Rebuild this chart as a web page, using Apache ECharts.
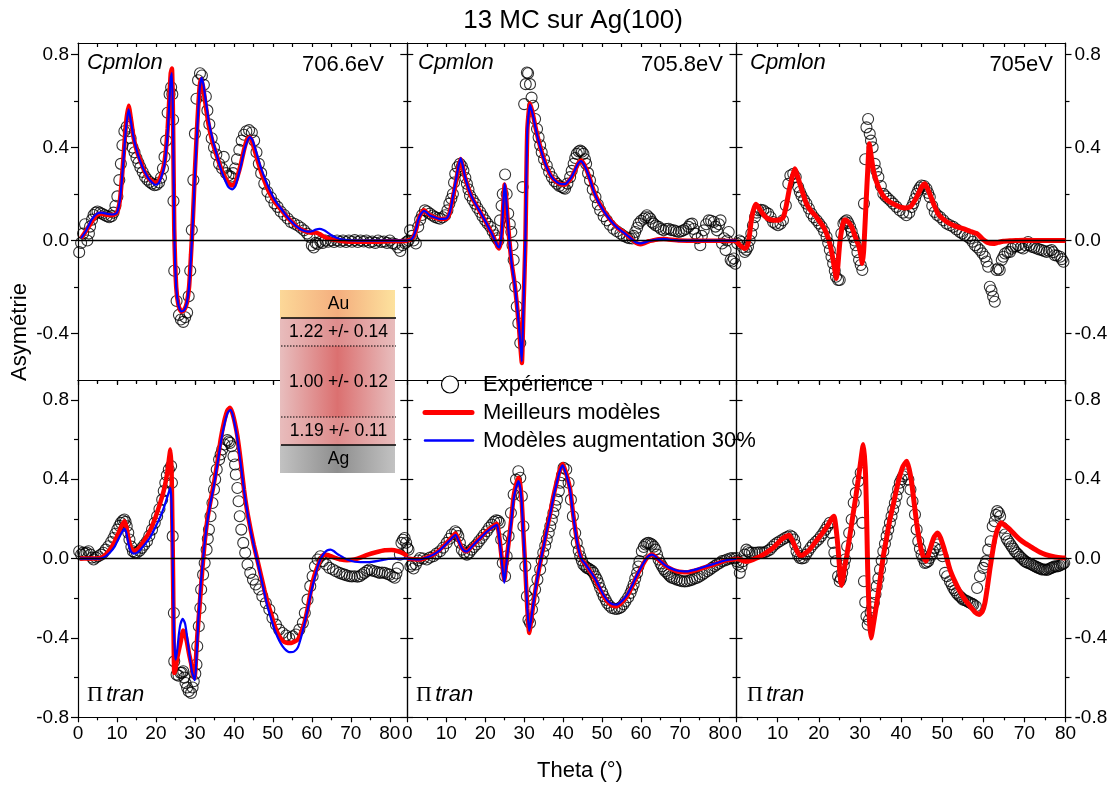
<!DOCTYPE html>
<html><head><meta charset="utf-8">
<script src="https://cdn.jsdelivr.net/npm/echarts@6/dist/echarts.min.js"></script>
<style>html,body{margin:0;padding:0;background:#fff}#c{width:1114px;height:785px}</style>
</head><body><div id="c"></div>
<script>
const FONT = '"Liberation Sans", Arial, sans-serif';

// ---------- tick values ----------
const xMajorTicks = [0,10,20,30,40,50,60,70,80];
const xMinorTicks = [5,15,25,35,45,55,65,75];
const xTopTicks = [5,10,15,20,25,30,35,40,45,50,55,60,65,70,75,80];
const yMajorTop = [-0.4,0,0.4,0.8];
const yMinorTop = [-0.2,0.2,0.6];
const yMajorBottom = [-0.8,-0.4,0,0.4,0.8];
const yMinorBottom = [-0.6,-0.2,0.2,0.6];
const energies = ['706.6eV','705.8eV','705eV'];

// ---------- Cpmlon 706.6 eV ----------
const expA1 = [[0.3,-0.05],[0.8,-0.01],[1.3,0.03],[1.8,0.07],[2.4,0.0],[2.8,0.03],[3.1,0.06],[3.6,0.09],[4.0,0.11],[4.5,0.12],[5.0,0.125],[5.6,0.12],[6.2,0.115],[6.8,0.11],[7.4,0.105],[8.0,0.10],[8.6,0.105],[9.1,0.12],[9.6,0.15],[10.1,0.19],[10.6,0.26],[11.0,0.33],[11.4,0.41],[11.9,0.47],[12.5,0.49],[13.0,0.47],[13.5,0.44],[14.0,0.40],[14.5,0.38],[15.0,0.355],[15.5,0.335],[16.0,0.315],[16.6,0.295],[17.2,0.275],[17.8,0.262],[18.4,0.252],[19.0,0.245],[19.6,0.238],[20.2,0.24],[20.8,0.25],[21.3,0.27],[21.8,0.31],[22.2,0.36],[22.6,0.43],[23.0,0.55],[23.5,0.63],[23.9,0.66],[24.2,0.63],[24.4,0.52],[24.5,0.17],[24.7,-0.13],[25.3,-0.26],[25.9,-0.32],[26.4,-0.34],[27.0,-0.35],[27.5,-0.33],[28.0,-0.31],[28.4,-0.24],[28.8,-0.13],[29.2,0.045],[29.6,0.26],[30.0,0.46],[30.4,0.61],[30.8,0.69],[31.3,0.72],[31.8,0.71],[32.3,0.67],[32.8,0.62],[33.2,0.56],[33.7,0.50],[34.3,0.44],[34.9,0.40],[35.5,0.37],[36.2,0.33],[37.0,0.31],[37.4,0.36],[38.0,0.29],[38.6,0.28],[39.2,0.275],[39.8,0.29],[40.3,0.31],[40.8,0.35],[41.4,0.39],[42.0,0.43],[42.6,0.455],[43.2,0.47],[43.9,0.475],[44.6,0.465],[45.2,0.43],[45.8,0.38],[46.4,0.33],[47.0,0.29],[47.8,0.245],[48.6,0.21],[49.5,0.185],[50.4,0.16],[51.2,0.145],[52.0,0.125],[52.9,0.11],[53.8,0.095],[54.6,0.08],[55.5,0.072],[56.4,0.065],[57.2,0.055],[58.0,0.044],[58.8,0.03],[59.4,0.016],[60.0,-0.02],[60.5,-0.03],[61.0,-0.01],[61.5,-0.015],[62.2,-0.005],[62.8,-0.01],[63.5,0.0],[64.2,-0.005],[65.0,0.0],[65.7,-0.006],[66.5,0.0],[67.3,-0.005],[68.0,0.0],[68.8,-0.006],[69.5,0.0],[70.3,-0.005],[71.0,0.002],[71.8,-0.006],[72.5,0.0],[73.3,-0.004],[74.0,0.0],[74.8,-0.008],[75.5,-0.004],[76.3,-0.01],[77.0,0.0],[77.8,-0.006],[78.5,-0.004],[79.3,-0.01],[80.0,0.0],[80.7,-0.012],[81.4,-0.015],[82.1,-0.03],[82.7,-0.045],[83.3,-0.02],[83.9,-0.012],[84.4,-0.005]];
const redA1 = [[0.8,0.01],[2,0.04],[3.5,0.08],[4.8,0.11],[6,0.115],[7.5,0.11],[9,0.11],[10,0.12],[10.8,0.18],[11.5,0.32],[12.3,0.5],[13,0.58],[13.6,0.52],[14.3,0.44],[15.2,0.38],[16,0.345],[17,0.3],[18,0.27],[19,0.255],[19.8,0.248],[20.6,0.255],[21.3,0.28],[22,0.32],[22.5,0.38],[23,0.48],[23.4,0.6],[23.8,0.72],[24.1,0.74],[24.4,0.5],[24.7,0.05],[25.2,-0.2],[25.8,-0.28],[26.5,-0.305],[27.2,-0.3],[27.9,-0.27],[28.5,-0.2],[29,-0.06],[29.5,0.1],[30,0.3],[30.6,0.5],[31.2,0.66],[31.6,0.695],[32.1,0.66],[32.7,0.59],[33.5,0.5],[34.5,0.425],[35.5,0.37],[36.5,0.32],[37.5,0.28],[38.5,0.25],[39.5,0.237],[40.3,0.245],[41,0.28],[41.8,0.33],[42.6,0.39],[43.4,0.435],[44,0.445],[44.6,0.43],[45.3,0.39],[46,0.35],[47,0.295],[48,0.25],[49,0.21],[50,0.18],[51,0.155],[52,0.135],[53,0.115],[54,0.095],[55,0.078],[56,0.062],[57,0.05],[58,0.042],[59,0.036],[60,0.034],[61,0.035],[62,0.028],[63,0.018],[64,0.01],[65,0.005],[67,0.0],[70,-0.005],[75,-0.005],[80,-0.003],[84.5,-0.002]];
const blueA1 = [[0.8,0.01],[2,0.04],[3.5,0.09],[4.8,0.115],[6,0.12],[7.5,0.115],[9,0.112],[10,0.12],[10.8,0.18],[11.5,0.31],[12.3,0.48],[13,0.565],[13.6,0.51],[14.3,0.44],[15.2,0.38],[16,0.34],[17,0.3],[18,0.27],[19,0.25],[19.8,0.24],[20.6,0.245],[21.3,0.27],[22,0.31],[22.5,0.37],[23,0.46],[23.4,0.58],[23.8,0.7],[24.1,0.72],[24.4,0.5],[24.7,0.05],[25.2,-0.2],[25.8,-0.28],[26.5,-0.305],[27.2,-0.3],[27.9,-0.27],[28.5,-0.2],[29,-0.07],[29.5,0.09],[30,0.28],[30.6,0.48],[31.2,0.65],[31.7,0.70],[32.2,0.67],[32.8,0.6],[33.6,0.51],[34.6,0.43],[35.6,0.37],[36.6,0.31],[37.6,0.265],[38.6,0.23],[39.6,0.22],[40.4,0.235],[41.1,0.275],[41.9,0.33],[42.7,0.39],[43.5,0.43],[44.1,0.445],[44.7,0.435],[45.4,0.4],[46.1,0.36],[47,0.31],[48,0.265],[49,0.225],[50,0.19],[51,0.162],[52,0.14],[53,0.117],[54,0.096],[55,0.078],[56,0.062],[57,0.05],[58,0.042],[59,0.038],[60,0.04],[61,0.047],[62,0.05],[63,0.045],[64,0.035],[65,0.023],[66,0.014],[67,0.008],[68,0.004],[70,0.001],[75,0.0],[84.5,0.0]];

// ---------- Cpmlon 705.8 eV ----------
const expB1 = [[0.3,0.0],[0.7,0.044],[1.2,0.02],[1.6,0.0],[2.2,-0.013],[2.8,0.059],[3.3,0.09],[3.8,0.11],[4.5,0.13],[5.1,0.125],[5.8,0.116],[6.5,0.108],[7.1,0.101],[7.8,0.097],[8.4,0.094],[9.1,0.1],[9.7,0.109],[10.3,0.13],[10.8,0.159],[11.3,0.18],[11.7,0.2],[12.0,0.25],[12.3,0.287],[12.9,0.316],[13.5,0.33],[14.0,0.32],[14.4,0.301],[14.9,0.27],[15.3,0.244],[15.7,0.22],[16.1,0.194],[16.8,0.175],[17.4,0.159],[18.0,0.14],[18.7,0.123],[19.3,0.105],[20.0,0.087],[20.6,0.073],[21.3,0.059],[21.9,0.04],[22.5,0.023],[23.0,0.01],[23.4,0.0],[23.8,0.087],[24.2,0.15],[24.5,0.2],[25.1,0.284],[25.5,0.2],[25.9,0.116],[26.3,0.07],[26.7,0.037],[27.0,-0.02],[27.3,-0.084],[27.7,-0.199],[28.1,-0.284],[28.5,-0.356],[29.0,-0.441],[29.6,0.23],[30.0,0.587],[30.4,0.673],[30.7,0.723],[31.0,0.72],[31.5,0.673],[31.9,0.615],[32.3,0.58],[32.8,0.523],[33.3,0.48],[33.7,0.444],[34.1,0.41],[34.5,0.38],[35.1,0.35],[35.8,0.323],[36.4,0.295],[37.1,0.273],[37.8,0.255],[38.4,0.244],[39.0,0.235],[39.7,0.23],[40.1,0.226],[40.5,0.223],[41.1,0.245],[41.8,0.273],[42.2,0.3],[42.7,0.33],[43.1,0.355],[43.5,0.373],[44.0,0.383],[44.4,0.387],[44.8,0.382],[45.2,0.373],[45.6,0.35],[45.9,0.33],[46.4,0.29],[46.9,0.259],[47.6,0.22],[48.3,0.187],[48.9,0.155],[49.5,0.13],[50.4,0.105],[51.2,0.087],[52.0,0.068],[52.9,0.051],[53.8,0.04],[54.7,0.03],[55.5,0.02],[56.4,0.013],[57.0,0.01],[57.7,0.009],[58.1,0.02],[58.5,0.037],[59.0,0.055],[59.4,0.073],[60.0,0.085],[60.7,0.094],[61.1,0.1],[61.5,0.109],[62.0,0.1],[62.4,0.094],[62.8,0.08],[63.2,0.073],[63.8,0.065],[64.5,0.059],[65.1,0.05],[65.8,0.044],[66.4,0.05],[67.1,0.051],[67.7,0.045],[68.4,0.044],[69.0,0.04],[69.7,0.037],[70.3,0.04],[70.9,0.044],[71.5,0.05],[72.2,0.059],[72.6,0.07],[73.1,0.073],[73.5,0.05],[73.9,0.03],[74.5,0.01],[75.2,-0.02],[75.6,0.02],[76.1,0.044],[76.7,0.07],[77.4,0.087],[78.0,0.085],[78.7,0.08],[79.1,0.06],[79.5,0.044],[80.0,0.07],[80.4,0.087],[80.8,-0.013],[81.3,0.01],[81.7,-0.041],[82.1,0.0],[82.5,0.037],[83.0,-0.084],[83.4,-0.09],[83.8,-0.077],[84.2,-0.1],[84.6,-0.113]];
const redB1 = [[0,0],[1,0.005],[1.6,0.016],[2.3,0.05],[2.8,0.087],[3.5,0.115],[4.3,0.13],[5,0.12],[5.8,0.109],[7,0.1],[8,0.094],[9,0.093],[10.1,0.094],[10.8,0.115],[11.4,0.159],[12,0.21],[12.7,0.273],[13.2,0.32],[13.7,0.351],[14.2,0.32],[14.8,0.273],[15.6,0.23],[16.5,0.187],[17.6,0.155],[18.7,0.123],[19.8,0.09],[20.8,0.059],[21.7,0.03],[22.5,0.001],[23.1,-0.025],[23.6,-0.034],[24,-0.005],[24.3,0.044],[24.7,0.17],[25,0.241],[25.3,0.2],[25.7,0.101],[26.2,0.0],[26.8,-0.099],[27.5,-0.18],[28.1,-0.27],[28.7,-0.38],[29.1,-0.47],[29.4,-0.527],[29.8,-0.3],[30.3,-0.013],[30.8,0.473],[31.5,0.59],[32,0.56],[32.4,0.53],[33,0.48],[33.7,0.43],[34.7,0.37],[35.8,0.316],[37,0.275],[38.4,0.251],[39.5,0.242],[40.5,0.241],[41.4,0.255],[42.2,0.273],[43,0.3],[43.8,0.33],[44.6,0.344],[45.3,0.33],[46.1,0.301],[47,0.26],[47.8,0.216],[49,0.17],[50.4,0.13],[51.7,0.098],[52.9,0.073],[54.2,0.052],[55.5,0.037],[56.6,0.02],[57.7,0.004],[58.7,-0.01],[59.8,-0.016],[61,-0.01],[62,-0.003],[63.2,0.001],[64.5,0.006],[65.8,0.007],[67,0.005],[70,0.0],[75,-0.001],[80,-0.001],[84.5,-0.002]];
const blueB1 = [[0,0],[1,0.005],[1.6,0.018],[2.3,0.052],[2.8,0.088],[3.5,0.115],[4.3,0.128],[5,0.12],[5.8,0.108],[7,0.1],[8,0.094],[9,0.093],[10.1,0.095],[10.8,0.117],[11.4,0.16],[12,0.215],[12.7,0.28],[13.2,0.325],[13.7,0.355],[14.2,0.325],[14.8,0.275],[15.6,0.23],[16.5,0.19],[17.6,0.155],[18.7,0.124],[19.8,0.09],[20.8,0.058],[21.7,0.03],[22.5,0.0],[23.1,-0.022],[23.6,-0.03],[24,-0.003],[24.3,0.05],[24.7,0.175],[25,0.245],[25.3,0.2],[25.7,0.1],[26.2,0.0],[26.8,-0.1],[27.5,-0.18],[28.1,-0.27],[28.7,-0.375],[29.1,-0.46],[29.4,-0.52],[29.8,-0.29],[30.3,0.0],[30.8,0.47],[31.5,0.585],[32,0.555],[32.4,0.527],[33,0.478],[33.7,0.428],[34.7,0.368],[35.8,0.315],[37,0.275],[38.4,0.251],[39.5,0.243],[40.5,0.243],[41.4,0.257],[42.2,0.275],[43,0.302],[43.8,0.33],[44.6,0.342],[45.3,0.328],[46.1,0.3],[47,0.258],[47.8,0.215],[49,0.168],[50.4,0.128],[51.7,0.097],[52.9,0.072],[54.2,0.051],[55.5,0.035],[56.6,0.02],[57.7,0.005],[58.7,-0.008],[59.8,-0.012],[61,-0.008],[62,-0.002],[63.2,0.002],[64.5,0.005],[65.8,0.006],[67,0.004],[70,0.0],[75,0.0],[80,0.0],[84.5,0.0]];

// ---------- Cpmlon 705 eV ----------
const expC1 = [[0.2,-0.013],[0.7,0.0],[1.2,-0.006],[1.6,-0.03],[2.0,-0.049],[2.4,-0.04],[2.8,-0.027],[3.2,0.0],[3.6,0.03],[4.0,0.065],[4.5,0.101],[4.9,0.12],[5.3,0.13],[5.9,0.132],[6.5,0.13],[7.1,0.122],[7.7,0.116],[8.3,0.1],[8.9,0.08],[9.5,0.072],[10.1,0.066],[10.7,0.072],[11.3,0.087],[12.0,0.151],[12.6,0.244],[13.1,0.28],[13.8,0.287],[14.4,0.273],[15.0,0.23],[15.4,0.21],[15.8,0.194],[16.4,0.175],[17.0,0.159],[17.6,0.138],[18.2,0.116],[18.8,0.1],[19.5,0.087],[20.1,0.073],[20.7,0.059],[21.3,0.04],[21.9,0.016],[22.3,-0.01],[22.7,-0.041],[23.1,-0.07],[23.5,-0.099],[23.9,-0.13],[24.2,-0.156],[24.7,-0.17],[25.1,-0.17],[25.5,0.03],[26.0,0.073],[26.4,0.082],[26.8,0.087],[27.2,0.075],[27.6,0.059],[28.0,0.04],[28.4,0.016],[28.7,0.0],[29.0,-0.02],[29.4,-0.05],[29.8,-0.084],[30.2,-0.105],[30.6,-0.127],[31.0,0.159],[31.3,0.35],[31.6,0.487],[32.0,0.523],[32.4,0.459],[32.7,0.43],[33.1,0.401],[33.6,0.33],[34.0,0.3],[34.5,0.273],[35.1,0.235],[35.7,0.201],[36.3,0.19],[36.9,0.18],[37.5,0.17],[38.1,0.159],[38.9,0.145],[39.7,0.13],[40.5,0.12],[41.3,0.109],[42.0,0.12],[42.6,0.144],[43.0,0.16],[43.4,0.18],[43.8,0.2],[44.2,0.216],[44.6,0.228],[45.0,0.237],[45.6,0.235],[46.2,0.223],[46.6,0.205],[47.0,0.187],[47.6,0.15],[48.2,0.123],[48.8,0.11],[49.5,0.101],[50.3,0.087],[51.1,0.073],[51.9,0.066],[52.7,0.059],[53.5,0.048],[54.3,0.037],[54.9,0.03],[55.5,0.023],[56.2,0.016],[56.8,0.009],[57.4,-0.005],[58.0,-0.02],[58.6,-0.03],[59.2,-0.041],[59.8,-0.055],[60.4,-0.07],[60.8,-0.09],[61.2,-0.113],[61.6,-0.199],[62.0,-0.215],[62.4,-0.241],[62.8,-0.263],[63.2,-0.127],[63.6,-0.12],[64.0,-0.127],[64.5,-0.084],[64.9,-0.07],[65.3,-0.056],[65.9,-0.05],[66.5,-0.049],[66.9,-0.035],[67.3,-0.027],[67.9,-0.025],[68.5,-0.02],[69.1,-0.03],[69.7,-0.034],[70.3,-0.02],[70.9,-0.006],[71.3,-0.02],[71.8,-0.027],[72.4,-0.03],[73.0,-0.034],[73.6,-0.038],[74.2,-0.041],[74.8,-0.045],[75.4,-0.049],[76.0,-0.045],[76.6,-0.041],[77.0,-0.05],[77.4,-0.063],[78.0,-0.065],[78.7,-0.07],[79.1,-0.08],[79.5,-0.091]];
const redC1 = [[0,0],[0.8,-0.02],[1.5,-0.03],[2,-0.034],[2.4,-0.03],[2.8,-0.013],[3.2,0.03],[3.6,0.087],[4.1,0.13],[4.7,0.156],[5.3,0.145],[6.1,0.123],[6.9,0.105],[7.7,0.094],[8.7,0.088],[9.7,0.087],[10.6,0.09],[11.4,0.101],[12.1,0.15],[12.8,0.216],[13.5,0.27],[14.2,0.309],[14.8,0.28],[15.4,0.244],[16.2,0.2],[17,0.159],[18,0.13],[19.1,0.109],[20.1,0.085],[21.1,0.059],[21.9,0.03],[22.7,-0.013],[23.3,-0.065],[23.9,-0.127],[24.3,-0.163],[24.6,-0.12],[25.1,-0.013],[25.6,0.05],[26.1,0.085],[26.4,0.09],[26.9,0.085],[27.4,0.075],[28,0.059],[28.6,0.03],[29.2,0.0],[29.8,-0.027],[30.2,-0.06],[30.6,-0.099],[30.9,-0.05],[31.2,0.05],[31.5,0.159],[31.9,0.3],[32.3,0.416],[32.7,0.37],[33.3,0.301],[34,0.255],[34.9,0.216],[36,0.185],[37.3,0.166],[38.5,0.155],[39.8,0.144],[41,0.14],[42.2,0.144],[43.2,0.168],[44.2,0.201],[45,0.23],[45.8,0.244],[46.4,0.225],[47,0.201],[48,0.155],[49,0.116],[50.4,0.09],[51.9,0.073],[53.5,0.06],[55.1,0.051],[56.8,0.04],[58.4,0.03],[59.2,0.018],[60,0.004],[61,-0.008],[62.4,-0.013],[63.6,-0.008],[64.9,-0.003],[66.5,-0.001],[68.1,0.0],[70,0.001],[75,0.0],[80,0.0]];

// ---------- Π tran 706.6 eV ----------
const expA2 = [[0.3,0.037],[0.8,0.02],[1.3,0.03],[1.8,0.025],[2.2,0.03],[2.7,0.037],[3.2,0.02],[3.6,0.005],[4.0,-0.005],[4.6,0.005],[5.2,0.012],[5.9,0.02],[6.5,0.029],[7.1,0.045],[7.8,0.062],[8.5,0.083],[9.1,0.104],[9.6,0.125],[10.1,0.146],[10.6,0.165],[11.0,0.18],[11.5,0.192],[11.9,0.197],[12.2,0.185],[12.5,0.163],[12.9,0.13],[13.2,0.096],[13.7,0.06],[14.1,0.037],[14.6,0.03],[15.1,0.029],[15.8,0.04],[16.4,0.054],[17.0,0.07],[17.7,0.087],[18.3,0.115],[19.0,0.146],[19.7,0.18],[20.3,0.213],[20.9,0.25],[21.6,0.297],[22.0,0.34],[22.4,0.382],[22.8,0.42],[23.3,0.449],[23.9,0.466],[24.1,0.382],[24.3,0.113],[24.6,-0.274],[24.7,-0.518],[25.3,-0.585],[25.8,-0.59],[26.3,-0.576],[26.7,-0.575],[27.0,-0.568],[27.3,-0.6],[27.6,-0.627],[28.0,-0.65],[28.4,-0.669],[29.0,-0.677],[29.4,-0.65],[29.7,-0.618],[30.1,-0.58],[30.4,-0.534],[30.6,-0.442],[31.0,-0.341],[31.4,-0.249],[31.6,-0.156],[32.1,-0.081],[32.5,-0.022],[33.0,0.045],[33.3,0.1],[33.6,0.146],[34.0,0.213],[34.5,0.28],[34.9,0.348],[35.2,0.4],[35.6,0.449],[36.2,0.499],[36.6,0.525],[37.0,0.55],[37.6,0.575],[38.3,0.597],[38.7,0.59],[39.0,0.583],[39.4,0.566],[39.9,0.516],[40.3,0.474],[40.5,0.424],[40.9,0.356],[41.2,0.289],[41.5,0.213],[41.9,0.146],[42.4,0.079],[42.9,0.029],[43.5,-0.03],[44.2,-0.072],[44.9,-0.106],[45.6,-0.131],[46.5,-0.156],[47.3,-0.19],[48.2,-0.224],[49.1,-0.257],[49.9,-0.299],[50.8,-0.333],[51.6,-0.358],[52.5,-0.375],[53.4,-0.388],[54.2,-0.4],[55.1,-0.392],[55.9,-0.383],[56.8,-0.358],[57.7,-0.324],[58.2,-0.274],[58.9,-0.207],[59.6,-0.139],[60.2,-0.089],[60.8,-0.039],[61.5,-0.005],[62.2,0.012],[62.8,-0.013],[63.7,-0.03],[64.5,-0.047],[65.4,-0.055],[66.2,-0.064],[67.1,-0.072],[67.8,-0.078],[68.4,-0.081],[69.0,-0.085],[69.7,-0.089],[70.3,-0.09],[71.0,-0.089],[71.7,-0.092],[72.3,-0.089],[72.9,-0.08],[73.5,-0.072],[74.2,-0.062],[74.8,-0.055],[75.4,-0.06],[76.1,-0.064],[76.8,-0.068],[77.4,-0.072],[78.0,-0.07],[78.7,-0.072],[79.4,-0.078],[80.0,-0.081],[80.7,-0.09],[81.3,-0.097],[81.7,-0.075],[82.1,-0.047],[82.6,0.02],[83.0,0.079],[83.4,0.095],[83.8,0.104],[84.2,0.08],[84.5,0.054]];
const redA2 = [[0.5,0],[3,0.0],[5.7,0.003],[7,0.018],[8.2,0.045],[9.4,0.085],[10.4,0.129],[11.2,0.165],[11.9,0.188],[12.4,0.16],[13,0.096],[13.6,0.055],[14.3,0.037],[15.2,0.045],[16,0.062],[17.3,0.1],[18.6,0.146],[19.9,0.21],[21.1,0.281],[22.1,0.35],[22.9,0.432],[23.4,0.51],[23.7,0.55],[24,0.45],[24.2,0.2],[24.4,-0.1],[24.7,-0.576],[25,-0.56],[25.4,-0.509],[25.9,-0.46],[26.3,-0.425],[27,-0.363],[27.5,-0.38],[28,-0.425],[28.5,-0.48],[29,-0.526],[29.5,-0.58],[29.9,-0.602],[30.2,-0.53],[30.6,-0.392],[31.2,-0.24],[31.9,-0.055],[32.5,0.08],[33.2,0.197],[34,0.29],[34.9,0.382],[35.8,0.49],[36.6,0.6],[37.5,0.69],[38.3,0.745],[39,0.76],[39.6,0.735],[40.3,0.68],[40.9,0.617],[41.7,0.5],[42.6,0.348],[43.4,0.24],[44.3,0.146],[45.1,0.07],[46,-0.005],[46.9,-0.08],[47.8,-0.156],[48.6,-0.22],[49.5,-0.274],[50.3,-0.33],[51.2,-0.375],[52.1,-0.405],[52.9,-0.42],[53.8,-0.425],[54.7,-0.425],[55.6,-0.418],[56.4,-0.408],[57.2,-0.375],[58.1,-0.324],[59,-0.245],[59.8,-0.156],[60.6,-0.09],[61.5,-0.039],[62.3,0.0],[63.2,0.02],[64,0.018],[64.9,0.012],[66,0.004],[67.5,-0.005],[69,-0.008],[71,-0.005],[72.5,0.005],[74.4,0.02],[76.5,0.032],[78.7,0.042],[80.5,0.043],[82.1,0.037],[83.5,0.025],[84.5,0.012]];
const blueA2 = [[0.5,0],[3,0.0],[5.7,0.0],[7,0.01],[8.2,0.03],[9.4,0.06],[10.4,0.1],[11.2,0.13],[11.9,0.15],[12.4,0.13],[13,0.07],[13.6,0.035],[14.3,0.025],[15.2,0.03],[16,0.045],[17.3,0.075],[18.6,0.11],[19.9,0.16],[21.1,0.21],[22.1,0.26],[22.9,0.31],[23.4,0.34],[23.7,0.356],[24,0.28],[24.3,0.0],[24.6,-0.35],[25,-0.509],[25.4,-0.47],[25.9,-0.38],[26.3,-0.33],[26.9,-0.304],[27.5,-0.33],[28.1,-0.41],[28.7,-0.5],[29.3,-0.575],[30,-0.613],[30.4,-0.5],[30.9,-0.3],[31.5,-0.13],[32.2,0.02],[33,0.16],[33.9,0.27],[34.9,0.37],[35.8,0.48],[36.7,0.59],[37.6,0.68],[38.4,0.735],[39.1,0.75],[39.7,0.725],[40.4,0.66],[41,0.59],[41.8,0.47],[42.7,0.33],[43.5,0.23],[44.3,0.14],[45.2,0.06],[46,-0.01],[46.9,-0.09],[47.8,-0.17],[48.6,-0.24],[49.5,-0.3],[50.3,-0.35],[51.2,-0.395],[52.1,-0.43],[53,-0.455],[53.8,-0.468],[54.6,-0.472],[55.5,-0.468],[56.4,-0.448],[57.2,-0.4],[58.1,-0.33],[59,-0.25],[59.8,-0.17],[60.7,-0.1],[61.5,-0.04],[62.3,0.0],[63.2,0.028],[64,0.042],[64.8,0.045],[65.6,0.038],[66.5,0.024],[67.5,0.012],[68.5,0.0],[69.8,-0.01],[71,-0.016],[72.5,-0.018],[74,-0.018],[75.3,-0.017],[77,-0.012],[78.5,-0.006],[79.6,-0.002],[82,0.0],[84.5,0.0]];

// ---------- Π tran 705.8 eV ----------
const expB2 = [[0.3,0.045],[0.8,-0.04],[1.2,-0.03],[1.6,-0.05],[2.2,-0.03],[2.8,-0.01],[3.3,0.003],[4.1,0.0],[5.0,-0.005],[5.8,0.005],[6.7,0.012],[7.5,0.025],[8.4,0.037],[9.2,0.055],[10.1,0.079],[10.8,0.1],[11.4,0.121],[12.3,0.138],[12.7,0.13],[13.1,0.113],[13.5,0.08],[14.0,0.045],[14.6,0.03],[15.3,0.02],[15.9,0.03],[16.5,0.045],[17.1,0.058],[17.8,0.071],[18.4,0.087],[19.1,0.104],[19.7,0.12],[20.4,0.138],[21.0,0.155],[21.7,0.171],[22.3,0.185],[22.8,0.193],[23.3,0.19],[23.7,0.18],[24.1,0.096],[24.5,-0.022],[25.1,-0.089],[25.5,0.012],[26.0,0.113],[26.6,0.23],[27.3,0.323],[27.9,0.398],[28.5,0.44],[29.0,0.407],[29.4,0.314],[29.8,0.163],[30.3,-0.039],[30.7,-0.19],[31.1,-0.308],[31.5,-0.324],[32.0,-0.257],[32.4,-0.207],[32.8,-0.156],[33.4,-0.106],[34.1,-0.055],[34.5,-0.01],[34.9,0.029],[35.4,0.065],[35.8,0.096],[36.3,0.13],[36.7,0.163],[37.1,0.195],[37.5,0.23],[38.0,0.265],[38.4,0.297],[38.9,0.34],[39.3,0.382],[39.7,0.42],[40.1,0.457],[40.8,0.449],[41.4,0.382],[42.0,0.297],[42.5,0.213],[43.1,0.129],[43.5,0.079],[44.0,0.04],[44.4,0.012],[44.8,-0.01],[45.2,-0.03],[45.7,-0.04],[46.1,-0.047],[46.5,-0.05],[46.9,-0.055],[47.4,-0.062],[47.8,-0.072],[48.3,-0.09],[48.7,-0.106],[49.1,-0.125],[49.5,-0.148],[50.0,-0.17],[50.4,-0.19],[50.9,-0.208],[51.3,-0.224],[51.9,-0.238],[52.5,-0.249],[53.2,-0.253],[53.8,-0.254],[54.4,-0.25],[54.9,-0.244],[55.5,-0.23],[56.0,-0.215],[56.7,-0.195],[57.3,-0.173],[57.7,-0.152],[58.1,-0.131],[58.5,-0.1],[59.0,-0.072],[59.3,-0.04],[59.6,-0.013],[60.2,0.037],[60.7,0.058],[61.1,0.071],[61.5,0.077],[61.9,0.079],[62.4,0.076],[62.8,0.071],[63.3,0.06],[63.7,0.045],[64.1,0.02],[64.5,-0.005],[65.0,-0.025],[65.4,-0.039],[65.8,-0.053],[66.2,-0.064],[66.7,-0.073],[67.1,-0.081],[67.5,-0.09],[67.9,-0.097],[68.5,-0.1],[69.2,-0.106],[69.9,-0.11],[70.5,-0.114],[71.2,-0.115],[71.8,-0.114],[72.5,-0.11],[73.1,-0.106],[73.8,-0.1],[74.4,-0.097],[75.0,-0.09],[75.7,-0.081],[76.3,-0.073],[77.0,-0.064],[77.6,-0.056],[78.2,-0.047],[78.9,-0.038],[79.5,-0.03],[80.2,-0.022],[80.8,-0.013],[81.5,-0.01],[82.1,-0.005],[82.8,0.0],[83.4,0.003],[84.0,0.0],[84.5,-0.013]];
const redB2 = [[0,0.0],[1.5,-0.003],[3.3,-0.005],[5,0.005],[6.7,0.02],[8.4,0.045],[10.1,0.079],[11.3,0.105],[12.4,0.126],[13.2,0.09],[14,0.054],[14.7,0.04],[15.3,0.037],[16.5,0.06],[17.8,0.087],[19.1,0.112],[20.4,0.138],[21.7,0.158],[23,0.176],[23.4,0.14],[23.8,0.079],[24.4,-0.03],[24.9,-0.109],[25.4,-0.02],[26,0.079],[26.7,0.2],[27.3,0.314],[27.9,0.37],[28.5,0.407],[29,0.37],[29.4,0.281],[29.8,0.13],[30.3,-0.055],[30.8,-0.25],[31.3,-0.375],[31.8,-0.31],[32.4,-0.224],[33.2,-0.12],[34.1,-0.022],[35,0.065],[35.8,0.146],[36.7,0.23],[37.5,0.314],[38.4,0.39],[39.2,0.45],[39.9,0.477],[40.6,0.44],[41.2,0.4],[41.8,0.348],[42.6,0.22],[43.5,0.096],[44.2,0.03],[44.8,-0.005],[45.8,-0.03],[46.9,-0.064],[48.2,-0.105],[49.5,-0.156],[50.6,-0.195],[51.7,-0.224],[52.7,-0.237],[53.8,-0.24],[55.1,-0.22],[56.4,-0.19],[57.6,-0.145],[58.9,-0.089],[60.2,-0.04],[61.5,0.003],[62.2,0.015],[62.8,0.02],[63.6,0.012],[64.5,-0.005],[65.6,-0.025],[66.7,-0.042],[68,-0.055],[69.2,-0.064],[70.5,-0.068],[71.8,-0.069],[73.5,-0.062],[75.2,-0.052],[77,-0.04],[78.7,-0.03],[80.4,-0.018],[82.1,-0.008],[84.5,-0.002]];
const blueB2 = [[0,0.0],[1.5,-0.003],[3.3,-0.004],[5,0.005],[6.7,0.02],[8.4,0.043],[10.1,0.076],[11.3,0.1],[12.4,0.12],[13.2,0.087],[14,0.052],[14.7,0.038],[15.3,0.036],[16.5,0.058],[17.8,0.085],[19.1,0.11],[20.4,0.135],[21.7,0.155],[23,0.17],[23.4,0.135],[23.8,0.07],[24.4,-0.04],[24.9,-0.123],[25.4,-0.03],[26,0.07],[26.7,0.19],[27.3,0.3],[27.9,0.355],[28.5,0.39],[29,0.355],[29.4,0.27],[29.8,0.12],[30.3,-0.06],[30.8,-0.25],[31.3,-0.365],[31.8,-0.305],[32.4,-0.22],[33.2,-0.118],[34.1,-0.022],[35,0.062],[35.8,0.142],[36.7,0.226],[37.5,0.308],[38.4,0.385],[39.2,0.445],[39.9,0.47],[40.6,0.435],[41.2,0.395],[41.8,0.343],[42.6,0.215],[43.5,0.093],[44.2,0.028],[44.8,-0.006],[45.8,-0.03],[46.9,-0.062],[48.2,-0.1],[49.5,-0.15],[50.6,-0.19],[51.7,-0.218],[52.7,-0.23],[53.8,-0.232],[55.1,-0.213],[56.4,-0.183],[57.6,-0.14],[58.9,-0.085],[60.2,-0.037],[61.5,0.004],[62.2,0.016],[62.8,0.02],[63.6,0.012],[64.5,-0.005],[65.6,-0.024],[66.7,-0.04],[68,-0.052],[69.2,-0.06],[70.5,-0.064],[71.8,-0.065],[73.5,-0.058],[75.2,-0.048],[77,-0.037],[78.7,-0.027],[80.4,-0.016],[82.1,-0.007],[84.5,-0.001]];

// ---------- Π tran 705 eV ----------
const expC2 = [[0.0,0.003],[0.4,-0.03],[0.8,-0.072],[1.2,-0.04],[1.6,-0.013],[2.0,0.02],[2.4,0.045],[2.8,0.037],[3.2,0.029],[3.8,0.03],[4.5,0.029],[5.1,0.03],[5.7,0.032],[6.3,0.03],[6.9,0.032],[7.5,0.038],[8.1,0.045],[8.7,0.058],[9.3,0.071],[9.9,0.08],[10.5,0.087],[11.2,0.096],[11.8,0.104],[12.4,0.11],[13.0,0.116],[13.5,0.11],[14.0,0.096],[14.3,0.07],[14.6,0.037],[15.0,0.015],[15.4,0.003],[15.9,0.0],[16.4,0.003],[16.9,0.02],[17.4,0.037],[18.0,0.055],[18.6,0.071],[19.3,0.085],[19.9,0.096],[20.5,0.112],[21.1,0.129],[21.6,0.145],[22.1,0.163],[22.7,0.18],[23.1,0.129],[23.5,0.079],[23.8,0.03],[24.2,-0.013],[24.7,-0.089],[25.1,-0.114],[25.4,-0.1],[25.7,-0.072],[26.1,-0.035],[26.4,-0.005],[26.9,0.062],[27.4,0.129],[28.0,0.197],[28.5,0.281],[29.0,0.331],[29.6,0.39],[30.2,0.432],[30.6,0.18],[31.0,-0.114],[31.3,-0.22],[31.6,-0.291],[31.9,-0.333],[32.2,-0.31],[32.6,-0.27],[33.0,-0.245],[33.4,-0.224],[33.8,-0.18],[34.1,-0.139],[34.5,-0.1],[34.9,-0.055],[35.3,-0.01],[35.7,0.037],[36.1,0.075],[36.5,0.113],[36.9,0.145],[37.3,0.18],[37.7,0.213],[38.1,0.247],[38.5,0.28],[38.9,0.314],[39.3,0.35],[39.7,0.382],[40.1,0.4],[40.5,0.415],[41.2,0.424],[41.8,0.398],[42.3,0.348],[42.8,0.289],[43.4,0.222],[43.8,0.146],[44.2,0.087],[44.6,0.05],[45.0,0.02],[45.4,0.0],[45.8,-0.022],[46.2,-0.02],[46.6,-0.013],[47.0,0.003],[47.4,0.02],[47.8,0.037],[48.2,0.054],[48.8,0.071],[49.5,0.045],[50.1,0.012],[50.7,-0.072],[51.2,-0.089],[51.9,-0.114],[52.3,-0.13],[52.7,-0.148],[53.1,-0.16],[53.5,-0.173],[53.9,-0.182],[54.3,-0.19],[54.7,-0.198],[55.1,-0.207],[55.6,-0.21],[56.1,-0.215],[56.5,-0.22],[56.9,-0.224],[57.3,-0.228],[57.6,-0.232],[58.2,-0.24],[58.5,-0.148],[59.2,-0.089],[60.0,-0.047],[60.4,-0.03],[60.7,-0.013],[61.2,0.045],[61.8,0.087],[62.3,0.163],[62.8,0.188],[63.1,0.22],[63.4,0.239],[63.8,0.23],[64.1,0.213],[64.7,0.155],[65.3,0.121],[65.7,0.1],[66.1,0.087],[66.5,0.075],[66.9,0.062],[67.3,0.05],[67.7,0.037],[68.1,0.028],[68.5,0.02],[68.9,0.01],[69.3,0.003],[69.7,-0.005],[70.1,-0.013],[70.5,-0.018],[70.9,-0.022],[71.4,-0.026],[71.8,-0.03],[72.2,-0.035],[72.6,-0.039],[73.0,-0.043],[73.4,-0.047],[73.8,-0.05],[74.2,-0.055],[74.6,-0.055],[75.0,-0.055],[75.4,-0.057],[75.8,-0.055],[76.2,-0.05],[76.6,-0.047],[77.0,-0.043],[77.4,-0.039],[77.8,-0.04],[78.2,-0.039],[78.6,-0.035],[79.1,-0.03],[79.4,-0.026],[79.7,-0.022]];
const redC2 = [[0,0],[1,-0.005],[2,-0.013],[3,-0.012],[4,-0.005],[5.2,0.005],[6.5,0.02],[7.7,0.036],[8.9,0.054],[9.9,0.075],[10.9,0.096],[11.9,0.11],[12.8,0.118],[13.5,0.095],[14.2,0.062],[14.9,0.03],[15.6,0.012],[16.6,0.025],[17.8,0.045],[19,0.078],[20.3,0.113],[21.3,0.14],[22.3,0.171],[23.1,0.2],[23.7,0.213],[24.1,0.17],[24.5,0.096],[24.9,0.0],[25.2,-0.09],[25.5,-0.136],[25.9,-0.1],[26.3,-0.04],[26.8,0.012],[27.6,0.12],[28.4,0.23],[29,0.31],[29.6,0.398],[30.2,0.49],[30.6,0.55],[30.8,0.575],[31.1,0.52],[31.4,0.415],[31.7,0.15],[31.9,-0.055],[32.3,-0.3],[32.7,-0.4],[33.3,-0.33],[34.1,-0.224],[34.9,-0.11],[35.7,0.012],[36.5,0.105],[37.3,0.197],[38.1,0.27],[38.9,0.348],[39.7,0.415],[40.5,0.465],[41.4,0.491],[42,0.45],[42.6,0.382],[43.2,0.28],[43.8,0.18],[44.4,0.1],[45,0.037],[45.5,0.005],[46.1,-0.013],[46.7,0.02],[47.4,0.071],[48.1,0.11],[48.9,0.129],[49.6,0.105],[50.3,0.062],[51.1,0.005],[51.9,-0.055],[53.1,-0.115],[54.3,-0.165],[55.5,-0.205],[56.8,-0.24],[58,-0.27],[59,-0.282],[59.8,-0.265],[60.4,-0.224],[61,-0.145],[61.6,-0.055],[62.2,0.025],[62.8,0.096],[63.5,0.15],[64.4,0.18],[65.4,0.165],[66.5,0.146],[67.7,0.12],[68.9,0.096],[70.2,0.077],[71.4,0.062],[72.6,0.046],[73.8,0.032],[75.2,0.02],[76.6,0.012],[78.2,0.006],[80,0.003]];

// ---------- layout ----------
const panels = [
  {row:0,col:0,xMax:84.5,exp:expA1,red:redA1,blue:blueA1},
  {row:0,col:1,xMax:84.5,exp:expB1,red:redB1,blue:blueB1},
  {row:0,col:2,xMax:80,exp:expC1,red:redC1,blue:null},
  {row:1,col:0,xMax:84.5,exp:expA2,red:redA2,blue:blueA2},
  {row:1,col:1,xMax:84.5,exp:expB2,red:redB2,blue:blueB2},
  {row:1,col:2,xMax:80,exp:expC2,red:redC2,blue:null}
];
const colLeft = [78, 407.3, 736.5];
const colWidth = [329.3, 329.2, 329];
const rowTop = [43, 380];
const rowH = [337, 337.3];

const AX = {color:'#000', width:1.2};
const TICKFONT = 19;
const grid = [], xAxis = [], yAxis = [], series = [];
panels.forEach((p,i)=>{
  grid.push({left:colLeft[p.col], top:rowTop[p.row], width:colWidth[p.col], height:rowH[p.row]});
  const yMin = p.row===0 ? -0.6 : -0.8, yMax = p.row===0 ? 0.85 : 0.9;
  const yMaj = p.row===0 ? yMajorTop : yMajorBottom;
  const yMin2 = p.row===0 ? yMinorTop : yMinorBottom;
  const xi = xAxis.length;
  const xBase = {gridIndex:i, type:'value', min:0, max:p.xMax, splitLine:{show:false}};
  xAxis.push(Object.assign({}, xBase, {position:'bottom',
    axisLine:{show:true,onZero:false,lineStyle:AX},
    axisTick:{show:true,inside:false,length:5,customValues:xMajorTicks,lineStyle:AX},
    axisLabel:{show:p.row===1,customValues:xMajorTicks,fontSize:TICKFONT,color:'#000',fontFamily:FONT,margin:7}}));
  xAxis.push(Object.assign({}, xBase, {position:'bottom',
    axisLine:{show:false,onZero:false},
    axisTick:{show:true,inside:false,length:3,customValues:xMinorTicks,lineStyle:AX},
    axisLabel:{show:false}}));
  xAxis.push(Object.assign({}, xBase, {position:'top',
    axisLine:{show:true,onZero:false,lineStyle:AX},
    axisTick:{show:true,inside:true,length:4,customValues:xTopTicks,lineStyle:AX},
    axisLabel:{show:false}}));
  const yi = yAxis.length;
  const yBase = {gridIndex:i, type:'value', min:yMin, max:yMax, splitLine:{show:false}};
  const fmt = v => (Math.abs(v)<1e-9 ? 0 : v).toFixed(1);
  ['left','right'].forEach(pos=>{
    const showLab = (pos==='left' && p.col===0) || (pos==='right' && p.col===2);
    yAxis.push(Object.assign({}, yBase, {position:pos,
      axisLine:{show:true,onZero:false,lineStyle:AX},
      axisTick:{show:true,inside:false,length:pos==='left'?7:6,customValues:yMaj,lineStyle:AX},
      axisLabel:{show:showLab,customValues:yMaj,formatter:fmt,fontSize:TICKFONT,color:'#000',fontFamily:FONT,margin:9}}));
    yAxis.push(Object.assign({}, yBase, {position:pos,
      axisLine:{show:false,onZero:false},
      axisTick:{show:true,inside:false,length:4,customValues:yMin2,lineStyle:AX},
      axisLabel:{show:false}}));
  });
  series.push({type:'scatter', name:'Expérience', xAxisIndex:xi, yAxisIndex:yi, data:p.exp,
    symbol:'circle', symbolSize:11, z:2,
    itemStyle:{color:'rgba(255,255,255,0)', borderColor:'#000', borderWidth:1.1},
    markLine:{silent:true, symbol:'none', label:{show:false}, animation:false,
      lineStyle:{color:'#000', width:1.3, type:'solid'}, data:[{yAxis:0}]}});
  series.push({type:'line', name:'Meilleurs modèles', xAxisIndex:xi, yAxisIndex:yi, data:p.red,
    showSymbol:false, smooth:0.2, z:3, lineStyle:{color:'#ff0000', width:p.col===2?5:4.5}});
  if (p.blue) series.push({type:'line', name:'Modèles augmentation 30%', xAxisIndex:xi, yAxisIndex:yi, data:p.blue,
    showSymbol:false, smooth:0.2, z:4, lineStyle:{color:'#0000ff', width:2.2}});
});

// ---------- annotations ----------
const T = (x,y,text,extra) => ({type:'text', x, y, z:100, silent:true,
  style:Object.assign({text, fill:'#000', fontFamily:FONT, fontSize:22, align:'left', verticalAlign:'middle'}, extra||{})});
const graphic = [];
graphic.push(T(573,21,'13 MC sur Ag(100)',{fontSize:26, align:'center'}));
[87,418,750].forEach((x)=>graphic.push(T(x,63,'Cpmlon',{fontStyle:'italic'})));
[384,723,1053].forEach((x,k)=>graphic.push(T(x,65,energies[k],{align:'right'})));
[87,416,747].forEach(x=>graphic.push({type:'text', x, y:695, z:100, silent:true,
  style:{text:'{p|Π} {t|tran}', verticalAlign:'middle', align:'left', fill:'#000',
    rich:{p:{fontFamily:'"Liberation Serif", "DejaVu Serif", serif', fontSize:22, fill:'#000'},
          t:{fontFamily:FONT, fontStyle:'italic', fontSize:22, fill:'#000'}}}}));
graphic.push({type:'text', x:20, y:332, rotation:Math.PI/2, z:100, silent:true,
  style:{text:'Asymétrie', fontFamily:FONT, fontSize:22, fill:'#000', align:'center', verticalAlign:'middle'}});
graphic.push(T(580,771,'Theta (°)',{align:'center'}));

// inset (layer stack)
const lg = (c1,c2) => ({type:'linear', x:0, y:0, x2:1, y2:0,
  colorStops:[{offset:0,color:c1},{offset:0.5,color:c2},{offset:1,color:c1}]});
const IX = 280, IW = 115;
graphic.push({type:'rect', z:90, silent:true, shape:{x:IX,y:290,width:IW,height:28}, style:{fill:{type:'linear',x:0,y:0,x2:1,y2:0,colorStops:[{offset:0,color:'#fcd898'},{offset:0.5,color:'#f4ae7e'},{offset:1,color:'#fde29e'}]}}});
graphic.push({type:'rect', z:90, silent:true, shape:{x:IX,y:318,width:IW,height:28}, style:{fill:lg('#e8bcbc','#de8c8c')}});
graphic.push({type:'rect', z:90, silent:true, shape:{x:IX,y:346,width:IW,height:71}, style:{fill:lg('#e8bebe','#db7070')}});
graphic.push({type:'rect', z:90, silent:true, shape:{x:IX,y:417,width:IW,height:28}, style:{fill:lg('#e8bcbc','#de8c8c')}});
graphic.push({type:'rect', z:90, silent:true, shape:{x:IX,y:445,width:IW,height:28}, style:{fill:lg('#c2c2c2','#8e8e8e')}});
graphic.push({type:'line', z:91, silent:true, shape:{x1:IX+1,y1:318,x2:IX+IW+1,y2:318}, style:{stroke:'#000',lineWidth:1.5}});
graphic.push({type:'line', z:91, silent:true, shape:{x1:IX+1,y1:445,x2:IX+IW+1,y2:445}, style:{stroke:'#000',lineWidth:1.5}});
graphic.push({type:'line', z:91, silent:true, shape:{x1:IX+1,y1:346,x2:IX+IW+1,y2:346}, style:{stroke:'#000',lineWidth:1.2,lineDash:[1.5,1.5]}});
graphic.push({type:'line', z:91, silent:true, shape:{x1:IX+1,y1:417,x2:IX+IW+1,y2:417}, style:{stroke:'#000',lineWidth:1.2,lineDash:[1.5,1.5]}});
const layerLabels = ['Au','1.22 +/- 0.14','1.00 +/- 0.12','1.19 +/- 0.11','Ag'];
[304,332,382,431,459].forEach((y,k)=>graphic.push(T(IX+IW/2+1,y,layerLabels[k],{fontSize:17.5,align:'center'})));

// legend
graphic.push({type:'circle', z:100, silent:true, shape:{cx:450,cy:384.5,r:8.5}, style:{fill:'#fff',stroke:'#000',lineWidth:1.2}});
graphic.push({type:'line', z:100, silent:true, shape:{x1:425,y1:412.5,x2:472,y2:412.5}, style:{stroke:'#ff0000',lineWidth:5,lineCap:'round'}});
graphic.push({type:'line', z:100, silent:true, shape:{x1:425,y1:440.5,x2:473,y2:440.5}, style:{stroke:'#0000ff',lineWidth:2.5,lineCap:'round'}});
graphic.push(T(483,385,'Expérience'));
graphic.push(T(483,413,'Meilleurs modèles'));
graphic.push(T(483,441,'Modèles augmentation 30%'));

const chart = echarts.init(document.getElementById('c'), null, {renderer:'canvas'});
chart.setOption({animation:false, backgroundColor:'#fff', grid, xAxis, yAxis, series, graphic});
</script></body></html>
